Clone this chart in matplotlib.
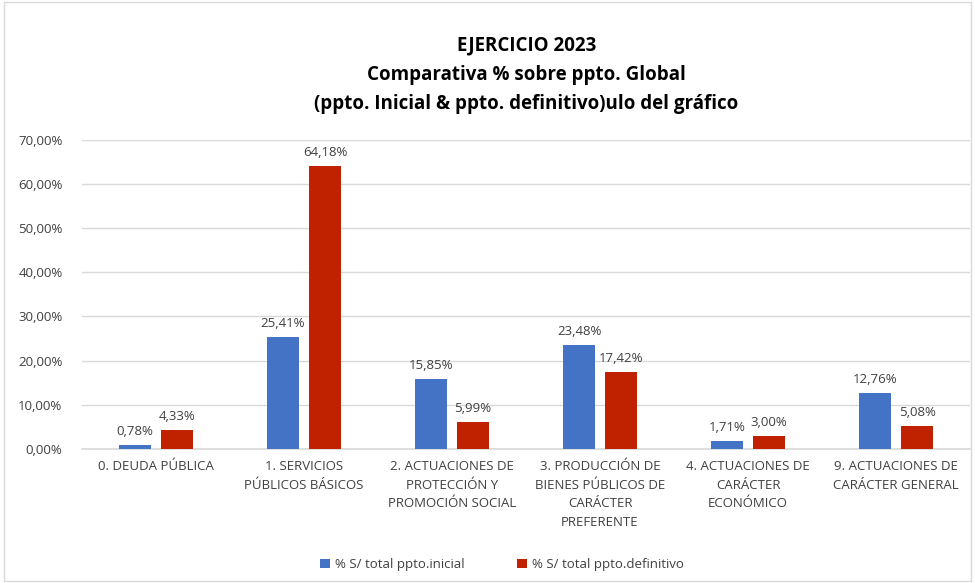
import matplotlib
matplotlib.use("Agg")
import matplotlib.pyplot as plt
import numpy as np
from matplotlib.ticker import FuncFormatter

plt.rcParams['font.family'] = ['Open Sans', 'DejaVu Sans']

categories = ["0. DEUDA PÚBLICA", "1. SERVICIOS\nPÚBLICOS BÁSICOS",
              "2. ACTUACIONES DE\nPROTECCIÓN Y\nPROMOCIÓN SOCIAL",
              "3. PRODUCCIÓN DE\nBIENES PÚBLICOS DE\nCARÁCTER\nPREFERENTE",
              "4. ACTUACIONES DE\nCARÁCTER\nECONÓMICO",
              "9. ACTUACIONES DE\nCARÁCTER GENERAL"]
inicial = [0.78, 25.41, 15.85, 23.48, 1.71, 12.76]
definitivo = [4.33, 64.18, 5.99, 17.42, 3.00, 5.08]
series_names = ["% S/ total ppto.inicial", "% S/ total ppto.definitivo"]
yticks = [0, 10, 20, 30, 40, 50, 60, 70]

blue = "#4472C4"
red = "#C02200"

fig = plt.figure(figsize=(9.75, 5.83), dpi=100)
ax = fig.add_axes([0.084, 0.23, 0.911, 0.53])
x = np.arange(len(categories))
w = 0.22
off = 0.142
ax.bar(x - off, inicial, w, color=blue, label=series_names[0], zorder=3)
ax.bar(x + off, definitivo, w, color=red, label=series_names[1], zorder=3)

def fmt(v):
    return f"{v:.2f}".replace(".", ",") + "%"

for xi, v in zip(x - off, inicial):
    ax.text(xi, v + 1.6, fmt(v), ha='center', va='bottom', fontsize=9.5, color='#404040')
for xi, v in zip(x + off, definitivo):
    ax.text(xi, v + 1.6, fmt(v), ha='center', va='bottom', fontsize=9.5, color='#404040')

ax.set_ylim(0, 70)
ax.set_xlim(-0.5, len(categories) - 0.5)
ax.set_yticks(yticks)
ax.yaxis.set_major_formatter(FuncFormatter(lambda v, p: fmt(v)))
ax.set_xticks(x)
ax.set_xticklabels(categories, fontsize=9.5, color='#404040', linespacing=1.55)
ax.tick_params(axis='y', labelsize=9.5, colors='#404040', length=0, pad=14)
ax.tick_params(axis='x', length=0, pad=8)
ax.grid(axis='y', color='#D9D9D9', linewidth=1, zorder=0)
for s in ['top', 'right', 'left']:
    ax.spines[s].set_visible(False)
ax.spines['bottom'].set_color('#D9D9D9')
ax.spines['bottom'].set_linewidth(1.2)

fig.text(0.54, 0.872, "EJERCICIO 2023\nComparativa % sobre ppto. Global\n(ppto. Inicial & ppto. definitivo)ulo del gráfico",
         ha='center', va='center', fontsize=13.5, fontweight='bold', linespacing=1.6, color='black')

fig.legend(loc='lower center', bbox_to_anchor=(0.515, 0.0), ncol=2, frameon=False,
           fontsize=9.5, handlelength=0.7, handleheight=0.7, columnspacing=4.0,
           handletextpad=0.4, labelcolor='#404040')

fig.patches.append(plt.Rectangle((0.004, 0.004), 0.992, 0.992, transform=fig.transFigure,
                                 fill=False, edgecolor='#D9D9D9', linewidth=1))
fig.savefig("out.png", dpi=100)
